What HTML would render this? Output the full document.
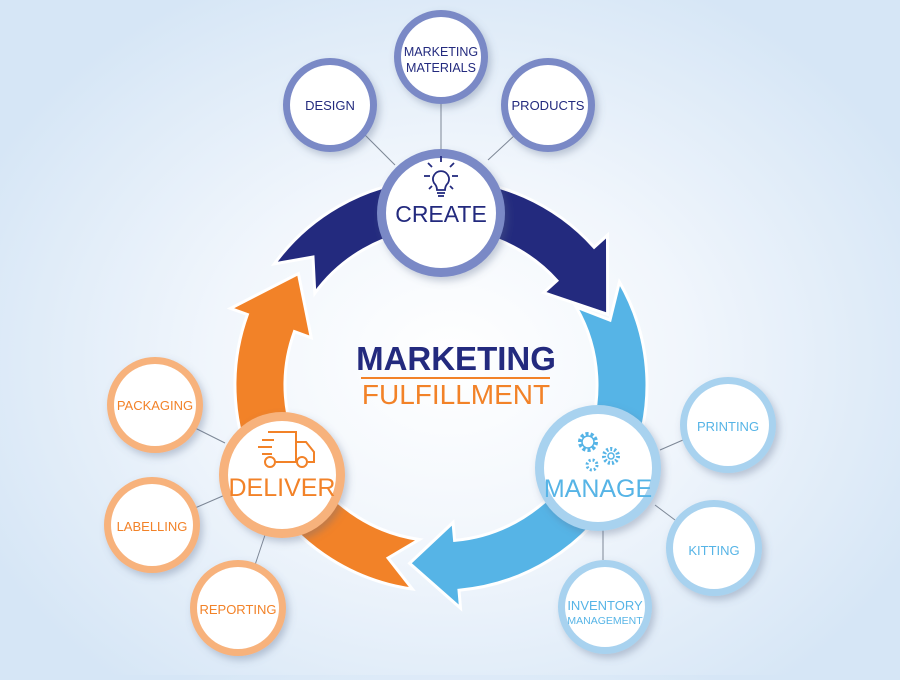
<!DOCTYPE html>
<html><head><meta charset="utf-8"><style>
html,body{margin:0;padding:0}
body{width:900px;height:675px;overflow:hidden;background:radial-gradient(ellipse 520px 420px at 450px 360px,#ffffff 0%,#f1f6fc 45%,#d6e6f6 100%);font-family:"Liberation Sans",sans-serif}
</style></head><body>
<svg id="s" width="900" height="675" viewBox="0 0 900 675" xmlns="http://www.w3.org/2000/svg">
<defs>
<filter id="sh" x="-30%" y="-30%" width="160%" height="160%"><feDropShadow dx="3" dy="4" stdDeviation="4" flood-color="#5a6c8a" flood-opacity="0.35"/></filter>
</defs>
<g id="arrows"></g>
<g stroke="#7d8796" stroke-width="1">
<line x1="441" y1="104" x2="441" y2="150"/>
<line x1="365" y1="135" x2="395" y2="165"/>
<line x1="515" y1="135" x2="488" y2="160"/>
<line x1="195" y1="428" x2="225" y2="443"/>
<line x1="195" y1="508" x2="225" y2="495"/>
<line x1="255" y1="565" x2="265" y2="535"/>
<line x1="683" y1="440" x2="660" y2="450"/>
<line x1="675" y1="520" x2="655" y2="505"/>
<line x1="603" y1="560" x2="603" y2="530"/>
</g>
<g id="circles"></g>
<text x="456" y="370" text-anchor="middle" font-size="33" font-weight="bold" fill="#232a7e">MARKETING</text>
<line x1="361" y1="378" x2="550" y2="378" stroke="#f28228" stroke-width="2"/>
<text x="456" y="404" text-anchor="middle" font-size="28" fill="#f28228">FULFILLMENT</text>
<g stroke="#232a7e" stroke-width="1.8" fill="none">
<path d="M434,183 a8,8 0 1 1 14,0 q-3,3 -3,7 h-8 q0,-4 -3,-7z"/>
<line x1="437" y1="193" x2="445" y2="193"/><line x1="438" y1="196" x2="444" y2="196"/>
<line x1="441" y1="156" x2="441" y2="162"/><line x1="424" y1="176" x2="430" y2="176"/><line x1="452" y1="176" x2="458" y2="176"/>
<line x1="428" y1="163" x2="432" y2="167"/><line x1="454" y1="163" x2="450" y2="167"/>
<line x1="429" y1="189" x2="432" y2="186"/><line x1="453" y1="189" x2="450" y2="186"/>
</g>
<g stroke="#f28228" stroke-width="2" fill="none">
<path d="M268,432 h28 v30 h-20 M296,442 h10 l8,10 v10 h-6 M262,440 h12 M258,447 h14 M262,454 h10"/>
<circle cx="270" cy="462" r="5"/><circle cx="302" cy="462" r="5"/>
</g>
<g stroke="#56b4e6" stroke-width="1.5" fill="none">
<circle cx="588" cy="442" r="8" stroke-dasharray="3 2" stroke-width="4"/><circle cx="588" cy="442" r="6"/>
<circle cx="611" cy="456" r="7" stroke-dasharray="2 2" stroke-width="4"/><circle cx="611" cy="456" r="3"/>
<circle cx="592" cy="465" r="5" stroke-dasharray="2 2" stroke-width="3"/>
</g>
</svg>
<script>
var cx=441,cy=385,R=206,r=156,m=(R+r)/2;
function P(rad,a){a=a*Math.PI/180;return (cx+rad*Math.cos(a)).toFixed(1)+","+(cy+rad*Math.sin(a)).toFixed(1);}
function arrow(a0,a1,tip,col){
 var big=((a1-a0+360)%360)>180?1:0;
 var d="M"+P(R,a0)+" A"+R+","+R+" 0 "+big+" 1 "+P(R,a1)+" L"+P(R+18,a1)+" L"+P(m,tip)+" L"+P(r-18,a1)+" L"+P(r,a1)+" A"+r+","+r+" 0 "+big+" 0 "+P(r,a0)+" L"+P(m,a0+9)+" Z";
 return '<path d="'+d+'" fill="'+col+'" stroke="#fff" stroke-width="3" stroke-linejoin="miter"/>';
}
document.getElementById("arrows").innerHTML=
 arrow(98,200,218,"#f28228")+arrow(330,445,460,"#56b4e6")+arrow(216,318,337,"#232a7e");
var C=[
[441,213,64,"#7a89c6",9,[["CREATE",222,23,"#232a7e"]]],
[330,105,47,"#7a89c6",7,[["DESIGN",110,13,"#232a7e"]]],
[441,57,47,"#7a89c6",7,[["MARKETING",56,12.5,"#232a7e"],["MATERIALS",72,12.5,"#232a7e"]]],
[548,105,47,"#7a89c6",7,[["PRODUCTS",110,13,"#232a7e"]]],
[282,475,63,"#f7b27c",9,[["DELIVER",496,25,"#f28228"]]],
[155,405,48,"#f7b27c",7,[["PACKAGING",410,13,"#f28228"]]],
[152,525,48,"#f7b27c",7,[["LABELLING",531,13,"#f28228"]]],
[238,608,48,"#f7b27c",7,[["REPORTING",614,13,"#f28228"]]],
[598,468,63,"#a8d2ef",9,[["MANAGE",497,25,"#56b4e6"]]],
[728,425,48,"#a8d2ef",7,[["PRINTING",431,13,"#56b4e6"]]],
[714,548,48,"#a8d2ef",7,[["KITTING",555,13,"#56b4e6"]]],
[605,607,47,"#a8d2ef",7,[["INVENTORY",610,13,"#56b4e6"],["MANAGEMENT",624,10.5,"#56b4e6"]]]];
var h="";
C.forEach(function(c){
 h+='<circle cx="'+c[0]+'" cy="'+c[1]+'" r="'+c[2]+'" fill="'+c[3]+'" filter="url(#sh)"/>';
 h+='<circle cx="'+c[0]+'" cy="'+c[1]+'" r="'+(c[2]-c[4])+'" fill="#fff"/>';
 c[5].forEach(function(t){h+='<text x="'+c[0]+'" y="'+t[1]+'" text-anchor="middle" font-family="Liberation Sans, sans-serif" font-size="'+t[2]+'" fill="'+t[3]+'">'+t[0]+'</text>';});
});
document.getElementById("circles").innerHTML=h;
</script>
</body></html>
